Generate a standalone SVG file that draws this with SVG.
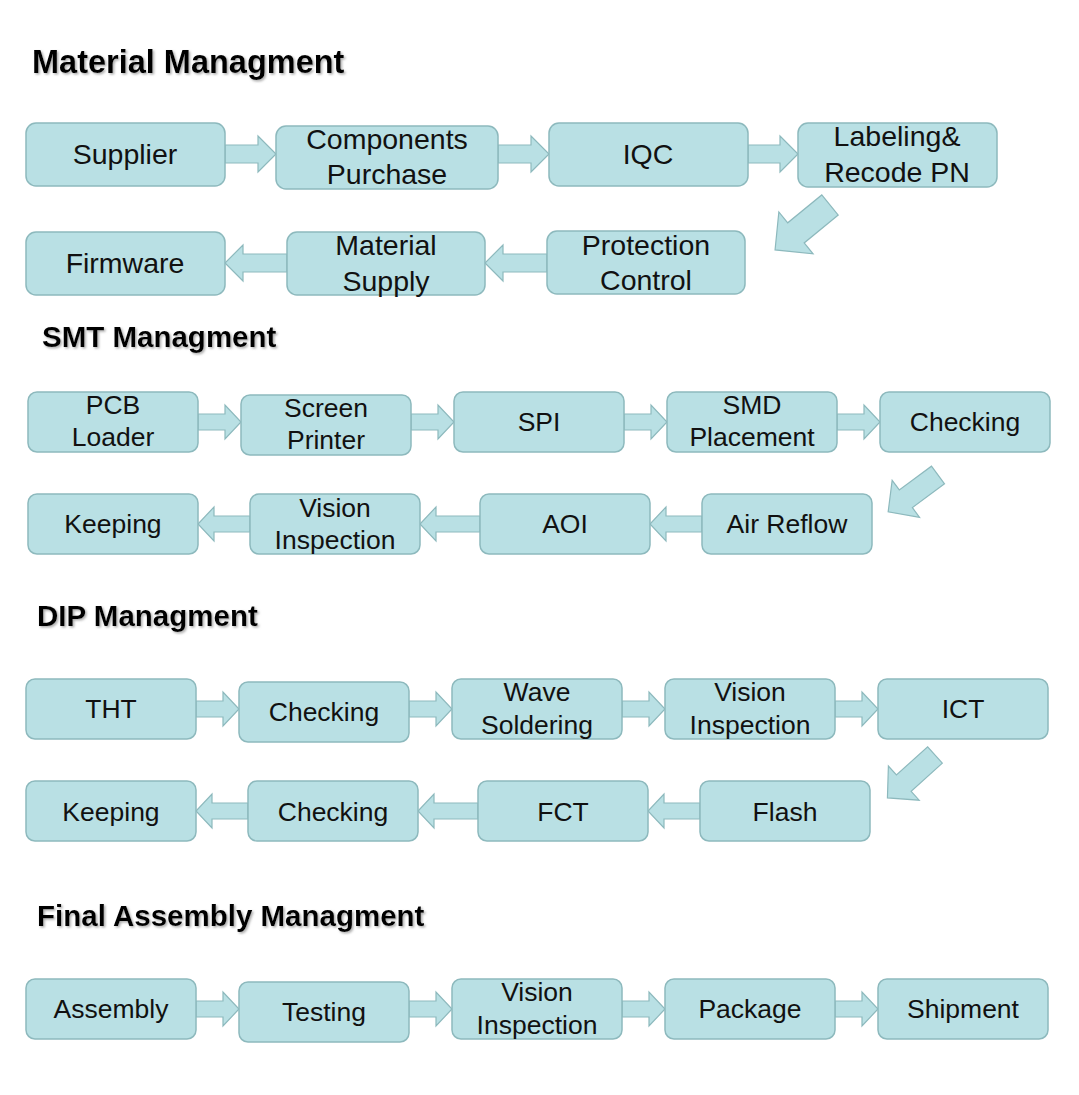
<svg xmlns="http://www.w3.org/2000/svg" width="1079" height="1095" viewBox="0 0 1079 1095">
<style>
.b rect{fill:#b9e0e4;stroke:#8db9bd;stroke-width:1.5}
.b text{font-family:"Liberation Sans",Arial,sans-serif;fill:#111;text-anchor:middle}
.m text{font-size:28.5px}.s text{font-size:26.5px}
.a path{fill:#b9e0e4;stroke:#8db9bd;stroke-width:1.2}
.t{font-family:"Liberation Sans",Arial,sans-serif;font-weight:bold;fill:#000}
</style>
<defs><filter id="sh"><feDropShadow dx="1.5" dy="1.5" stdDeviation="0.8" flood-color="#888" flood-opacity="0.7"/></filter></defs>
<rect width="1079" height="1095" fill="#fff"/>
<g filter="url(#sh)">
<text class="t" x="32" y="73" font-size="32.5">Material Managment</text>
<text class="t" x="42" y="347" font-size="29.5">SMT Managment</text>
<text class="t" x="37" y="626" font-size="29.5">DIP Managment</text>
<text class="t" x="37" y="926" font-size="29.5">Final Assembly Managment</text>
</g>
<g class="a" id="connectors">
<path d="M225,145H258V136L276,154L258,172V163H225Z"/>
<path d="M498,145H531V136L549,154L531,172V163H498Z"/>
<path d="M748,145H780V136L798,154L780,172V163H748Z"/>
<g transform="translate(830,205) rotate(140.7)"><path d="M0,-13H44V-27L71,0L44,27V13H0Z"/></g>
<path d="M547,254H503V245L485,263L503,281V272H547Z"/>
<path d="M287,254H243V245L225,263L243,281V272H287Z"/>
<path d="M198,414H225V405L241,422L225,439V430H198Z"/>
<path d="M411,414H438V405L454,422L438,439V430H411Z"/>
<path d="M624,414H651V405L667,422L651,439V430H624Z"/>
<path d="M837,414H864V405L880,422L864,439V430H837Z"/>
<g transform="translate(938,475) rotate(143.5)"><path d="M0,-11H40V-23L62,0L40,23V11H0Z"/></g>
<path d="M702,516H666V507L650,524L666,541V532H702Z"/>
<path d="M480,516H436V507L420,524L436,541V532H480Z"/>
<path d="M250,516H214V507L198,524L214,541V532H250Z"/>
<path d="M196,701H223V692L239,709L223,726V717H196Z"/>
<path d="M409,701H436V692L452,709L436,726V717H409Z"/>
<path d="M622,701H649V692L665,709L649,726V717H622Z"/>
<path d="M835,701H862V692L878,709L862,726V717H835Z"/>
<g transform="translate(935,755) rotate(138)"><path d="M0,-11H42V-23L64,0L42,23V11H0Z"/></g>
<path d="M700,803H664V794L648,811L664,828V819H700Z"/>
<path d="M478,803H434V794L418,811L434,828V819H478Z"/>
<path d="M248,803H212V794L196,811L212,828V819H248Z"/>
<path d="M196,1001H223V992L239,1009L223,1026V1017H196Z"/>
<path d="M409,1001H436V992L452,1009L436,1026V1017H409Z"/>
<path d="M622,1001H649V992L665,1009L649,1026V1017H622Z"/>
<path d="M835,1001H862V992L878,1009L862,1026V1017H835Z"/>
</g>
<g class="b m">
<g id="supplier"><rect x="26" y="123" width="199" height="63" rx="10"/><text x="125" y="164">Supplier</text></g>
<g id="components"><rect x="276" y="126" width="222" height="63" rx="10"/><text x="387" y="149">Components</text><text x="387" y="184">Purchase</text></g>
<g id="iqc"><rect x="549" y="123" width="199" height="63" rx="10"/><text x="648" y="164">IQC</text></g>
<g id="labeling"><rect x="798" y="123" width="199" height="64" rx="10"/><text x="897" y="146">Labeling&amp;</text><text x="897" y="182">Recode PN</text></g>
<g id="protection"><rect x="547" y="231" width="198" height="63" rx="10"/><text x="646" y="255">Protection</text><text x="646" y="290">Control</text></g>
<g id="material-supply"><rect x="287" y="232" width="198" height="63" rx="10"/><text x="386" y="255">Material</text><text x="386" y="291">Supply</text></g>
<g id="firmware"><rect x="26" y="232" width="199" height="63" rx="10"/><text x="125" y="273">Firmware</text></g>
</g>
<g class="b s">
<g id="pcb"><rect x="28" y="392" width="170" height="60" rx="9"/><text x="113" y="414">PCB</text><text x="113" y="446">Loader</text></g>
<g id="screen"><rect x="241" y="395" width="170" height="60" rx="9"/><text x="326" y="417">Screen</text><text x="326" y="449">Printer</text></g>
<g id="spi"><rect x="454" y="392" width="170" height="60" rx="9"/><text x="539" y="431">SPI</text></g>
<g id="smd"><rect x="667" y="392" width="170" height="60" rx="9"/><text x="752" y="414">SMD</text><text x="752" y="446">Placement</text></g>
<g id="checking1"><rect x="880" y="392" width="170" height="60" rx="9"/><text x="965" y="431">Checking</text></g>
<g id="reflow"><rect x="702" y="494" width="170" height="60" rx="9"/><text x="787" y="533">Air Reflow</text></g>
<g id="aoi"><rect x="480" y="494" width="170" height="60" rx="9"/><text x="565" y="533">AOI</text></g>
<g id="vision1"><rect x="250" y="494" width="170" height="60" rx="9"/><text x="335" y="517">Vision</text><text x="335" y="549">Inspection</text></g>
<g id="keeping1"><rect x="28" y="494" width="170" height="60" rx="9"/><text x="113" y="533">Keeping</text></g>
<g id="tht"><rect x="26" y="679" width="170" height="60" rx="9"/><text x="111" y="718">THT</text></g>
<g id="checking2"><rect x="239" y="682" width="170" height="60" rx="9"/><text x="324" y="721">Checking</text></g>
<g id="wave"><rect x="452" y="679" width="170" height="60" rx="9"/><text x="537" y="701">Wave</text><text x="537" y="734">Soldering</text></g>
<g id="vision2"><rect x="665" y="679" width="170" height="60" rx="9"/><text x="750" y="701">Vision</text><text x="750" y="734">Inspection</text></g>
<g id="ict"><rect x="878" y="679" width="170" height="60" rx="9"/><text x="963" y="718">ICT</text></g>
<g id="flash"><rect x="700" y="781" width="170" height="60" rx="9"/><text x="785" y="821">Flash</text></g>
<g id="fct"><rect x="478" y="781" width="170" height="60" rx="9"/><text x="563" y="821">FCT</text></g>
<g id="checking3"><rect x="248" y="781" width="170" height="60" rx="9"/><text x="333" y="821">Checking</text></g>
<g id="keeping2"><rect x="26" y="781" width="170" height="60" rx="9"/><text x="111" y="821">Keeping</text></g>
<g id="assembly"><rect x="26" y="979" width="170" height="60" rx="9"/><text x="111" y="1018">Assembly</text></g>
<g id="testing"><rect x="239" y="982" width="170" height="60" rx="9"/><text x="324" y="1021">Testing</text></g>
<g id="vision3"><rect x="452" y="979" width="170" height="60" rx="9"/><text x="537" y="1001">Vision</text><text x="537" y="1034">Inspection</text></g>
<g id="package"><rect x="665" y="979" width="170" height="60" rx="9"/><text x="750" y="1018">Package</text></g>
<g id="shipment"><rect x="878" y="979" width="170" height="60" rx="9"/><text x="963" y="1018">Shipment</text></g>
</g>
</svg>
